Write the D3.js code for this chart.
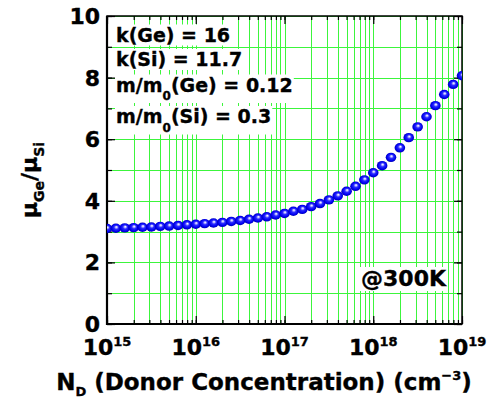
<!DOCTYPE html>
<html>
<head>
<meta charset="utf-8">
<script src="https://cdn.jsdelivr.net/npm/d3@7"></script>
<style>
  body { margin: 0; background: #fff; }
  text { font-family: "DejaVu Sans", Verdana, sans-serif; font-weight: bold; fill: #000;
         stroke: #000; stroke-width: 0.35px; }
</style>
</head>
<body>
<script>
// log10 of donor concentration N_D (cm^-3)
const logDoping = [
  15.0, 15.1, 15.2, 15.3, 15.4, 15.5, 15.6, 15.7, 15.8, 15.9,
  16.0, 16.1, 16.2, 16.3, 16.4, 16.5, 16.6, 16.7, 16.8, 16.9,
  17.0, 17.1, 17.2, 17.3, 17.4, 17.5, 17.6, 17.7, 17.8, 17.9,
  18.0, 18.1, 18.2, 18.3, 18.4, 18.5, 18.6, 18.7, 18.8, 18.9,
  19.0
];
// mobility ratio mu(Ge)/mu(Si)
const mobilityRatio = [
  3.10, 3.11, 3.12, 3.13, 3.14, 3.15, 3.17, 3.18, 3.20, 3.22,
  3.24, 3.26, 3.28, 3.30, 3.33, 3.36, 3.40, 3.44, 3.48, 3.54,
  3.59, 3.66, 3.72, 3.81, 3.91, 4.03, 4.16, 4.31, 4.47, 4.68,
  4.91, 5.14, 5.41, 5.72, 6.05, 6.40, 6.73, 7.09, 7.45, 7.78,
  8.06
];
const xTickExponents = [15, 16, 17, 18, 19];
const yTickValues = [0, 2, 4, 6, 8, 10];
const paramLines = [
  { pre: "k(Ge) = 16" },
  { pre: "k(Si) = 11.7" },
  { pre: "m/m", sub: "0", post: "(Ge) = 0.12" },
  { pre: "m/m", sub: "0", post: "(Si) = 0.3" }
];
const tempLabel = "@300K";

const W = 491, H = 400;
const plot = { left: 107, right: 462, top: 16, bottom: 324 };

const x = d3.scaleLog().domain([1e15, 1e19]).range([plot.left, plot.right]);
const y = d3.scaleLinear().domain([0, 10]).range([plot.bottom, plot.top]);

const svg = d3.select("body").append("svg")
  .attr("width", W).attr("height", H)
  .style("display", "block");

const defs = svg.append("defs");
defs.append("clipPath").attr("id", "plot-clip")
  .append("rect")
  .attr("x", plot.left).attr("y", plot.top)
  .attr("width", plot.right - plot.left).attr("height", plot.bottom - plot.top);

// shaded sphere fill for the markers
const ball = defs.append("radialGradient").attr("id", "ball")
  .attr("cx", "50%").attr("cy", "50%").attr("r", "55%")
  .attr("fx", "56%").attr("fy", "36%");
[["0%", "#ffffff"], ["14%", "#c4c4ff"], ["38%", "#2b2bff"], ["72%", "#0000f0"], ["100%", "#00009a"]]
  .forEach(([o, c]) => ball.append("stop").attr("offset", o).attr("stop-color", c));

// grid
const grid = svg.append("g").attr("stroke", "#3cf53c").attr("stroke-width", 1);
grid.selectAll("line.vx").data(x.ticks()).join("line")
  .attr("x1", d => Math.round(x(d)) + 0.5).attr("x2", d => Math.round(x(d)) + 0.5)
  .attr("y1", plot.top).attr("y2", plot.bottom);
grid.selectAll("line.hy").data(y.ticks(10)).join("line")
  .attr("y1", d => Math.round(y(d)) + 0.5).attr("y2", d => Math.round(y(d)) + 0.5)
  .attr("x1", plot.left).attr("x2", plot.right);

// inward ticks on all four sides
const decades = xTickExponents.map(e => Math.pow(10, e));
function tickAxis(axis, tx, ty) {
  const g = svg.append("g").attr("transform", `translate(${tx},${ty})`).call(axis);
  g.select(".domain").remove();
  g.selectAll("line").attr("stroke", "#000").attr("stroke-width", 1.2);
  g.selectAll("text").remove();
}
tickAxis(d3.axisBottom(x).tickValues(x.ticks()).tickSize(-4), 0, plot.bottom);
tickAxis(d3.axisBottom(x).tickValues(decades).tickSize(-8), 0, plot.bottom);
tickAxis(d3.axisTop(x).tickValues(x.ticks()).tickSize(-4), 0, plot.top);
tickAxis(d3.axisTop(x).tickValues(decades).tickSize(-8), 0, plot.top);
tickAxis(d3.axisLeft(y).ticks(10).tickSize(-5), plot.left, 0);
tickAxis(d3.axisLeft(y).tickValues(yTickValues).tickSize(-8), plot.left, 0);
tickAxis(d3.axisRight(y).ticks(10).tickSize(-5), plot.right, 0);
tickAxis(d3.axisRight(y).tickValues(yTickValues).tickSize(-8), plot.right, 0);

// frame
svg.append("rect")
  .attr("x", plot.left).attr("y", plot.top)
  .attr("width", plot.right - plot.left).attr("height", plot.bottom - plot.top)
  .attr("fill", "none").attr("stroke", "#000").attr("stroke-width", 1.5);
svg.append("path")
  .attr("d", `M${plot.left},${plot.top}V${plot.bottom}H${plot.right}`)
  .attr("fill", "none").attr("stroke", "#000").attr("stroke-width", 2.2);

// parameter annotations with opaque backgrounds
function boxedText(build) {
  const g = svg.append("g");
  const t = g.append("text");
  build(t);
  const b = t.node().getBBox();
  g.insert("rect", "text")
    .attr("x", b.x - 1).attr("y", b.y + 1)
    .attr("width", b.width + 2).attr("height", b.height - 1)
    .attr("fill", "#fff");
  return g;
}
const paramBaselines = [41.5, 66, 91.5, 123];
paramLines.forEach((p, i) => {
  boxedText(t => {
    t.attr("x", 116).attr("y", paramBaselines[i]).style("font-size", "19px");
    t.append("tspan").text(p.pre);
    if (p.sub) {
      t.append("tspan").attr("dy", 8.5).style("font-size", "12px").text(p.sub);
      t.append("tspan").attr("dy", -8.5).text(p.post);
    }
  });
});
boxedText(t => {
  t.attr("x", 446).attr("y", 286).attr("text-anchor", "end")
    .style("font-size", "22px").text(tempLabel);
});

// data points
svg.append("g").attr("clip-path", "url(#plot-clip)")
  .selectAll("ellipse").data(logDoping).join("ellipse")
  .attr("cx", d => x(Math.pow(10, d)))
  .attr("cy", (d, i) => y(mobilityRatio[i]))
  .attr("rx", 5.3).attr("ry", 4.7)
  .attr("fill", "url(#ball)");

// y tick labels
svg.append("g").selectAll("text").data(yTickValues).join("text")
  .attr("x", 100).attr("y", d => y(d))
  .attr("dy", "0.36em")
  .attr("text-anchor", "end")
  .style("font-size", "22px")
  .text(d => d);

// x tick labels: 10^n
const xl = svg.append("g").selectAll("text").data(xTickExponents).join("text")
  .attr("x", d => x(Math.pow(10, d)))
  .attr("y", 355)
  .attr("text-anchor", "middle")
  .style("font-size", "22px");
xl.append("tspan").text("10");
xl.append("tspan").attr("dy", -9).style("font-size", "13px").text(d => d);

// axis titles
const xt = svg.append("text")
  .attr("x", 264).attr("y", 390)
  .attr("text-anchor", "middle")
  .style("font-size", "23px");
xt.append("tspan").text("N");
xt.append("tspan").attr("dy", 6).style("font-size", "13px").text("D");
xt.append("tspan").attr("dy", -6).text(" (Donor Concentration) (cm");
xt.append("tspan").attr("dy", -10).style("font-size", "13px").text("\u22123");
xt.append("tspan").attr("dy", 10).text(")");

const yt = svg.append("text")
  .attr("transform", "translate(37,180) rotate(-90)")
  .attr("text-anchor", "middle")
  .style("font-size", "22px");
yt.append("tspan").text("\u03bc");
yt.append("tspan").attr("dy", 7).style("font-size", "14px").text("Ge");
yt.append("tspan").attr("dy", -7).text("/\u03bc");
yt.append("tspan").attr("dy", 7).style("font-size", "14px").text("Si");
</script>
</body>
</html>
